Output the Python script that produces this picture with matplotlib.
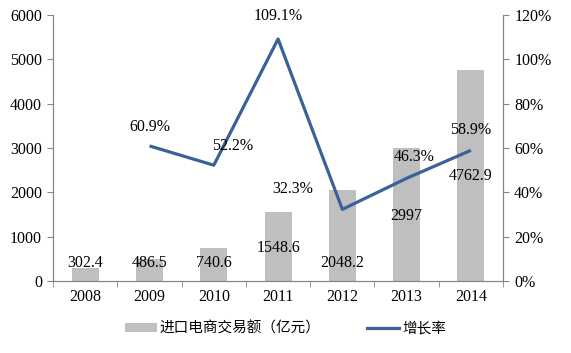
import numpy as np
import matplotlib
matplotlib.use('Agg')
from matplotlib import pyplot as plt
from matplotlib.lines import Line2D
from matplotlib.patches import Patch

years = ['2008', '2009', '2010', '2011', '2012', '2013', '2014']
trade = [302.4, 486.5, 740.6, 1548.6, 2048.2, 2997, 4762.9]
growth = [None, 60.9, 52.2, 109.1, 32.3, 46.3, 58.9]
# label heights for the bar values (data units, as placed in the source)
trade_label_y = [400, 400, 400, 740, 400, 1470, 2370]
# offsets (px) of the growth labels from their points
growth_label_dx = [0, 0, 19, 0, -50, 8, 0]
growth_label_dy = [0, 19, 19, 23, 20, 21, 20]

grey = '#BFBFBF'
blue = '#3A6298'
axis_c = '#868686'
num_font = 'Liberation Serif'
cjk_font = ['Noto Sans CJK SC', 'DejaVu Sans']
fs = 11.5

fig = plt.figure(figsize=(5.71, 3.53), dpi=100)
ax = fig.add_axes([0.093, 0.204, 0.788, 0.754])
ax2 = ax.twinx()

x = np.arange(len(years))
ax.bar(x, trade, width=0.42, color=grey, zorder=2)
ax.set_xlim(-0.5, len(years) - 0.5)
ax.set_ylim(0, 6000)
ax.set_yticks(np.arange(0, 6001, 1000))
ax.set_xticks(x)
ax.set_xticklabels(years)
ax.set_xticks(np.arange(-0.5, len(years), 1), minor=True)
ax.tick_params(axis='x', which='major', length=0, pad=6)
ax.tick_params(axis='x', which='minor', length=4, color=axis_c)
ax.tick_params(axis='y', length=4, color=axis_c, pad=4)

for i, v in enumerate(trade):
    ax.text(x[i], trade_label_y[i], '{:g}'.format(v), ha='center', va='center',
            fontsize=fs, family=num_font, zorder=5)

gx = [x[i] for i in range(len(years)) if growth[i] is not None]
gy = [g for g in growth if g is not None]
ax2.plot(gx, gy, color=blue, linewidth=2.3, zorder=3, solid_capstyle='butt')
ax2.set_ylim(0, 120)
ax2.set_yticks(np.arange(0, 121, 20))
ax2.set_yticklabels(['{}%'.format(v) for v in range(0, 121, 20)])
ax2.tick_params(axis='y', length=4, color=axis_c, pad=4)

for i, g in enumerate(growth):
    if g is None:
        continue
    ax2.annotate('{:.1f}%'.format(g), (x[i], g),
                 xytext=(growth_label_dx[i] * 0.72, growth_label_dy[i] * 0.72),
                 textcoords='offset points', ha='center', va='center',
                 fontsize=fs, family=num_font)

for a in (ax, ax2):
    a.spines['top'].set_visible(False)
    for s in ('left', 'right', 'bottom'):
        a.spines[s].set_color(axis_c)
    for lab in a.get_xticklabels() + a.get_yticklabels():
        lab.set_family(num_font)
        lab.set_fontsize(fs)

handles = [Patch(facecolor=grey, edgecolor='none'),
           Line2D([0], [0], color=blue, linewidth=2.3)]
fig.legend(handles, ['进口电商交易额（亿元）', '增长率'], loc='center',
           bbox_to_anchor=(0.5, 0.07), ncol=2, frameon=False,
           prop={'family': cjk_font, 'size': 10.5}, handlelength=2.2,
           handleheight=0.6, columnspacing=3.2, handletextpad=0.2)

fig.savefig('out.png', dpi=100)
